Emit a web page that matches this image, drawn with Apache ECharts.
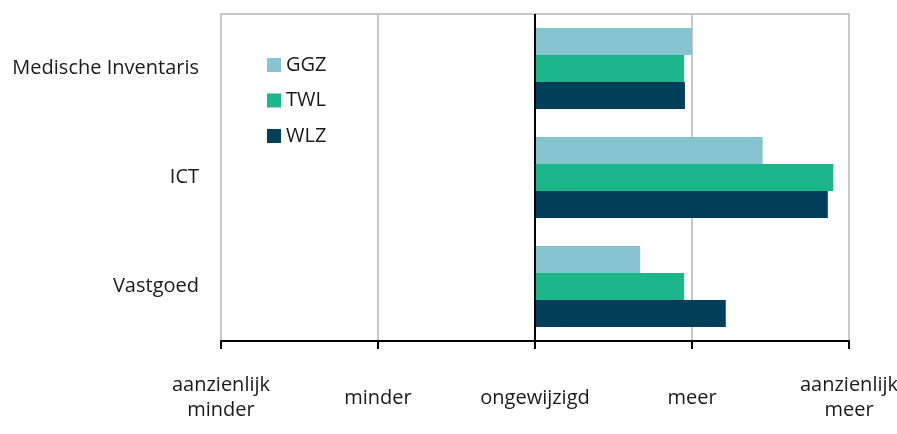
<!DOCTYPE html>
<html>
<head>
<meta charset="utf-8">
<script src="https://cdn.jsdelivr.net/npm/echarts@6/dist/echarts.min.js"></script>
<style>
  html, body { margin: 0; padding: 0; background: #fff; }
  #chart { width: 897px; height: 434px; }
</style>
</head>
<body>
<div id="chart"></div>
<script>
// Categories listed bottom to top along the category axis
const categories = ['Vastgoed', 'ICT', 'Medische Inventaris'];
const ggz = [0.67, 1.45, 1.00];
const twl = [0.95, 1.90, 0.95];
const wlz = [1.215, 1.865, 0.955];
const scaleLabels = ['aanzienlijk\nminder', 'minder', 'ongewijzigd', 'meer', 'aanzienlijk\nmeer'];

const FONT = '"Open Sans"';
const FS = 20;
const chart = echarts.init(document.getElementById('chart'), null, { renderer: 'canvas' });

const barBase = { type: 'bar', barWidth: 27, barGap: '0%' };

chart.setOption({
  animation: false,
  textStyle: { fontFamily: FONT },
  grid: {
    left: 221, right: 48, top: 14, bottom: 93,
    containLabel: false, outerBoundsMode: 'none',
    show: true, borderColor: '#c8c8c8', borderWidth: 2
  },
  legend: {
    orient: 'vertical',
    left: 262, top: 50,
    itemWidth: 14, itemHeight: 14, itemGap: 15.5,
    icon: 'rect',
    textStyle: { fontFamily: FONT, fontSize: FS, color: '#1a1a1a' },
    data: ['GGZ', 'TWL', 'WLZ']
  },
  xAxis: {
    type: 'value', min: -2, max: 2, interval: 1,
    axisLine: { show: true, onZero: false, lineStyle: { color: '#000', width: 2 } },
    axisTick: { show: true, length: 8, lineStyle: { color: '#000', width: 2 } },
    splitLine: { show: true, lineStyle: { color: '#c8c8c8', width: 2 } },
    axisLabel: {
      margin: 57, verticalAlign: 'middle', align: 'center',
      fontFamily: FONT, fontSize: FS, color: '#1a1a1a', lineHeight: 25,
      formatter: v => scaleLabels[Math.round(v) + 2]
    }
  },
  yAxis: {
    type: 'category', data: categories,
    axisLine: { show: false },
    axisTick: { show: false },
    axisLabel: { margin: 22, fontFamily: FONT, fontSize: FS, color: '#1a1a1a' }
  },
  series: [
    Object.assign({ name: 'GGZ', data: ggz, itemStyle: { color: '#86c5cf' } }, barBase),
    Object.assign({ name: 'TWL', data: twl, itemStyle: { color: '#1bb78a' } }, barBase),
    Object.assign({
      name: 'WLZ', data: wlz, itemStyle: { color: '#003e5a' },
      markLine: {
        silent: true, symbol: 'none', label: { show: false },
        lineStyle: { color: '#000', width: 2, type: 'solid' },
        data: [{ xAxis: 0 }]
      }
    }, barBase)
  ]
});
</script>
</body>
</html>
